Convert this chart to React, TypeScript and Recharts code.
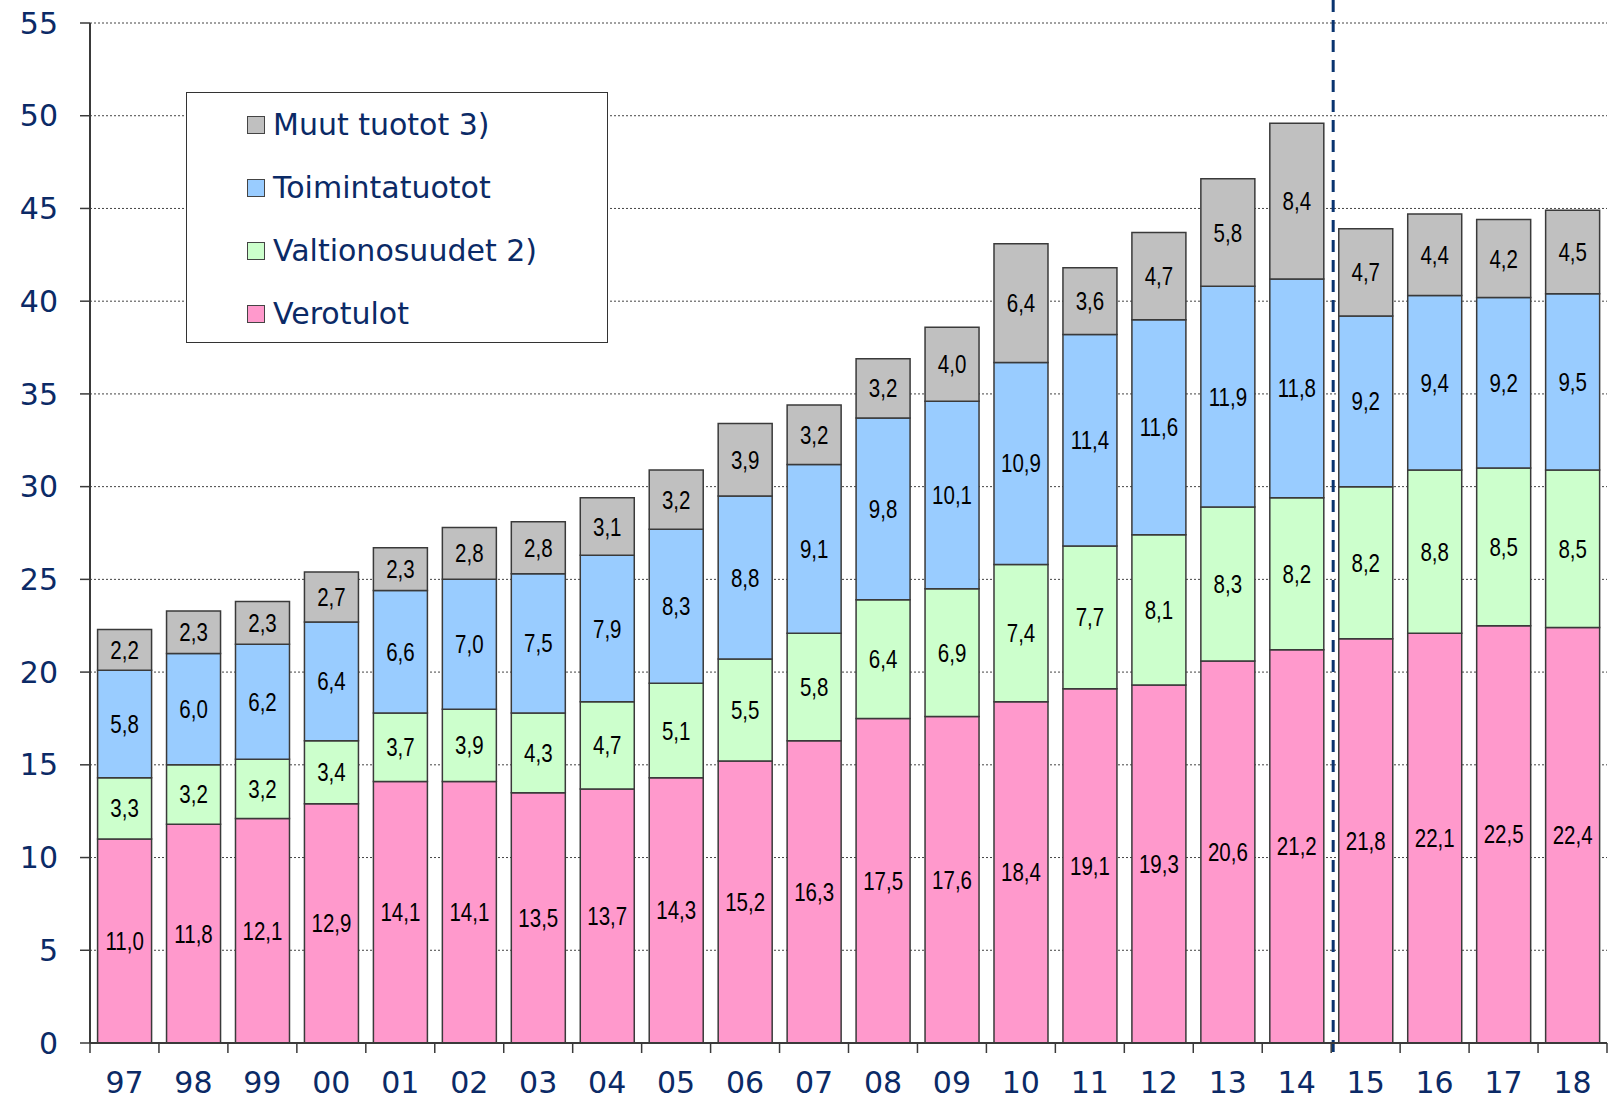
import React from 'react';
import { BarChart, Bar, XAxis, YAxis, CartesianGrid, LabelList, Legend, ReferenceLine } from 'recharts';

// Vuodet (x-akseli)
const years = ['97', '98', '99', '00', '01', '02', '03', '04', '05', '06', '07', '08', '09', '10', '11', '12', '13', '14', '15', '16', '17', '18'];

// Sarjat, mrd euroa
const verotulot = [11.0, 11.8, 12.1, 12.9, 14.1, 14.1, 13.5, 13.7, 14.3, 15.2, 16.3, 17.5, 17.6, 18.4, 19.1, 19.3, 20.6, 21.2, 21.8, 22.1, 22.5, 22.4];
const valtionosuudet = [3.3, 3.2, 3.2, 3.4, 3.7, 3.9, 4.3, 4.7, 5.1, 5.5, 5.8, 6.4, 6.9, 7.4, 7.7, 8.1, 8.3, 8.2, 8.2, 8.8, 8.5, 8.5];
const toimintatuotot = [5.8, 6.0, 6.2, 6.4, 6.6, 7.0, 7.5, 7.9, 8.3, 8.8, 9.1, 9.8, 10.1, 10.9, 11.4, 11.6, 11.9, 11.8, 9.2, 9.4, 9.2, 9.5];
const muutTuotot = [2.2, 2.3, 2.3, 2.7, 2.3, 2.8, 2.8, 3.1, 3.2, 3.9, 3.2, 3.2, 4.0, 6.4, 3.6, 4.7, 5.8, 8.4, 4.7, 4.4, 4.2, 4.5];

const yTicks = [0, 5, 10, 15, 20, 25, 30, 35, 40, 45, 50, 55];
const minorTicks = Array.from({ length: 56 }, (_, i) => i);
const forecastStart = '15';

const data = years.map((year, i) => ({
  year,
  verotulot: verotulot[i],
  valtionosuudet: valtionosuudet[i],
  toimintatuotot: toimintatuotot[i],
  muut: muutTuotot[i],
}));

const NAVY = '#0b2a66';
const AXIS = '#3a3a3a';
const AXIS_FONT = "'DejaVu Sans', Verdana, sans-serif";
const LABEL_FONT = "'Liberation Sans', Arial, sans-serif";

const fmt = (v: any) => Number(v).toFixed(1).replace('.', ',');

function YearTick(props: any) {
  const { x, y, payload, index } = props;
  const half = payload?.offset ?? 0;
  return (
    <g>
      <line x1={x - half} x2={x - half} y1={y - 29} y2={y - 19} stroke={AXIS} strokeWidth={1.5} />
      {index === years.length - 1 && (
        <line x1={x + half} x2={x + half} y1={y - 29} y2={y - 19} stroke={AXIS} strokeWidth={1.5} />
      )}
      <text x={x} y={y} dy={21} textAnchor="middle" fill={NAVY} fontSize={30} fontFamily={AXIS_FONT}>
        {payload.value}
      </text>
    </g>
  );
}

// Kapea (Arial Narrow -tyylinen) arvo palkin keskelle
function NarrowLabel(props: any) {
  const { x, y, width, height, value } = props;
  const cx = x + width / 2;
  const cy = y + height / 2;
  return (
    <g transform={`translate(${cx},${cy}) scale(0.82,1)`}>
      <text x={0} y={9} textAnchor="middle" fill="#000" fontSize={25} fontFamily={LABEL_FONT}>
        {fmt(value)}
      </text>
    </g>
  );
}

function LegendBox({ payload }: any) {
  const order = ['Muut tuotot 3)', 'Toimintatuotot', 'Valtionosuudet 2)', 'Verotulot'];
  const items = [...(payload ?? [])].sort((a: any, b: any) => order.indexOf(a.value) - order.indexOf(b.value));
  return (
    <div
      style={{
        width: 422,
        height: 251,
        boxSizing: 'border-box',
        border: '1.5px solid #333',
        background: '#fff',
        paddingLeft: 60,
      }}
    >
      {items.map((it: any) => (
        <div key={it.value} style={{ display: 'flex', alignItems: 'center', height: 63 }}>
          <span
            style={{
              width: 18,
              height: 18,
              boxSizing: 'border-box',
              background: it.color,
              border: '1.5px solid #444',
              marginRight: 8,
            }}
          />
          <span style={{ color: NAVY, fontSize: 30, fontFamily: AXIS_FONT, lineHeight: '30px' }}>{it.value}</span>
        </div>
      ))}
    </div>
  );
}

function ForecastLine(props: any) {
  const { x1, x2, y1, y2 } = props;
  return (
    <line
      x1={x1 + 2}
      x2={x2 + 2}
      y1={Math.min(y1, y2) - 23}
      y2={Math.max(y1, y2) + 13}
      stroke="#0a3470"
      strokeWidth={3}
      strokeDasharray="12 8"
    />
  );
}

export default function App() {
  return (
    <div style={{ position: 'absolute', left: 0, top: 0, background: '#fff' }}>
      <BarChart
        width={1620}
        height={1098}
        data={data}
        margin={{ top: 23, right: 13, left: 0, bottom: 0 }}
        barCategoryGap="11%"
      >
        <CartesianGrid vertical={false} stroke="#444" strokeDasharray="2 2" strokeWidth={1} />
        <XAxis
          dataKey="year"
          height={55}
          axisLine={{ stroke: AXIS, strokeWidth: 2 }}
          tickLine={false}
          tickSize={10}
          tickMargin={19}
          tick={<YearTick />}
          interval={0}
        />
        <XAxis xAxisId="top" dataKey="year" orientation="top" height={0} tick={false} tickLine={false} axisLine={{ stroke: AXIS, strokeWidth: 2 }} />
        <YAxis
          width={90}
          domain={[0, 55]}
          ticks={yTicks}
          interval={0}
          tickSize={10}
          tickMargin={22}
          axisLine={{ stroke: AXIS, strokeWidth: 2 }}
          tickLine={{ stroke: AXIS, strokeWidth: 1.5 }}
          tick={{ fill: NAVY, fontSize: 30, fontFamily: AXIS_FONT }}
        />
        <YAxis
          yAxisId="minor"
          mirror
          width={10}
          domain={[0, 55]}
          ticks={minorTicks}
          interval={0}
          tickSize={9}
          axisLine={false}
          tickLine={{ stroke: AXIS, strokeWidth: 1.5 }}
          tickFormatter={() => ''}
        />
        <YAxis yAxisId="right" orientation="right" mirror width={0} tick={false} tickLine={false} axisLine={{ stroke: AXIS, strokeWidth: 2 }} />
        <Legend
          layout="vertical"
          align="center"
          verticalAlign="middle"
          wrapperStyle={{ left: 186, top: 92, width: 422, height: 251 }}
          content={<LegendBox />}
        />
        <Bar dataKey="verotulot" name="Verotulot" stackId="a" fill="#ff99cc" stroke={AXIS} strokeWidth={1.5} isAnimationActive={false}>
          <LabelList dataKey="verotulot" content={<NarrowLabel />} />
        </Bar>
        <Bar dataKey="valtionosuudet" name="Valtionosuudet 2)" stackId="a" fill="#ccffcc" stroke={AXIS} strokeWidth={1.5} isAnimationActive={false}>
          <LabelList dataKey="valtionosuudet" content={<NarrowLabel />} />
        </Bar>
        <Bar dataKey="toimintatuotot" name="Toimintatuotot" stackId="a" fill="#99ccff" stroke={AXIS} strokeWidth={1.5} isAnimationActive={false}>
          <LabelList dataKey="toimintatuotot" content={<NarrowLabel />} />
        </Bar>
        <Bar dataKey="muut" name="Muut tuotot 3)" stackId="a" fill="#c0c0c0" stroke={AXIS} strokeWidth={1.5} isAnimationActive={false}>
          <LabelList dataKey="muut" content={<NarrowLabel />} />
        </Bar>
        <ReferenceLine x={forecastStart} position="start" ifOverflow="visible" shape={<ForecastLine />} />
      </BarChart>
    </div>
  );
}
